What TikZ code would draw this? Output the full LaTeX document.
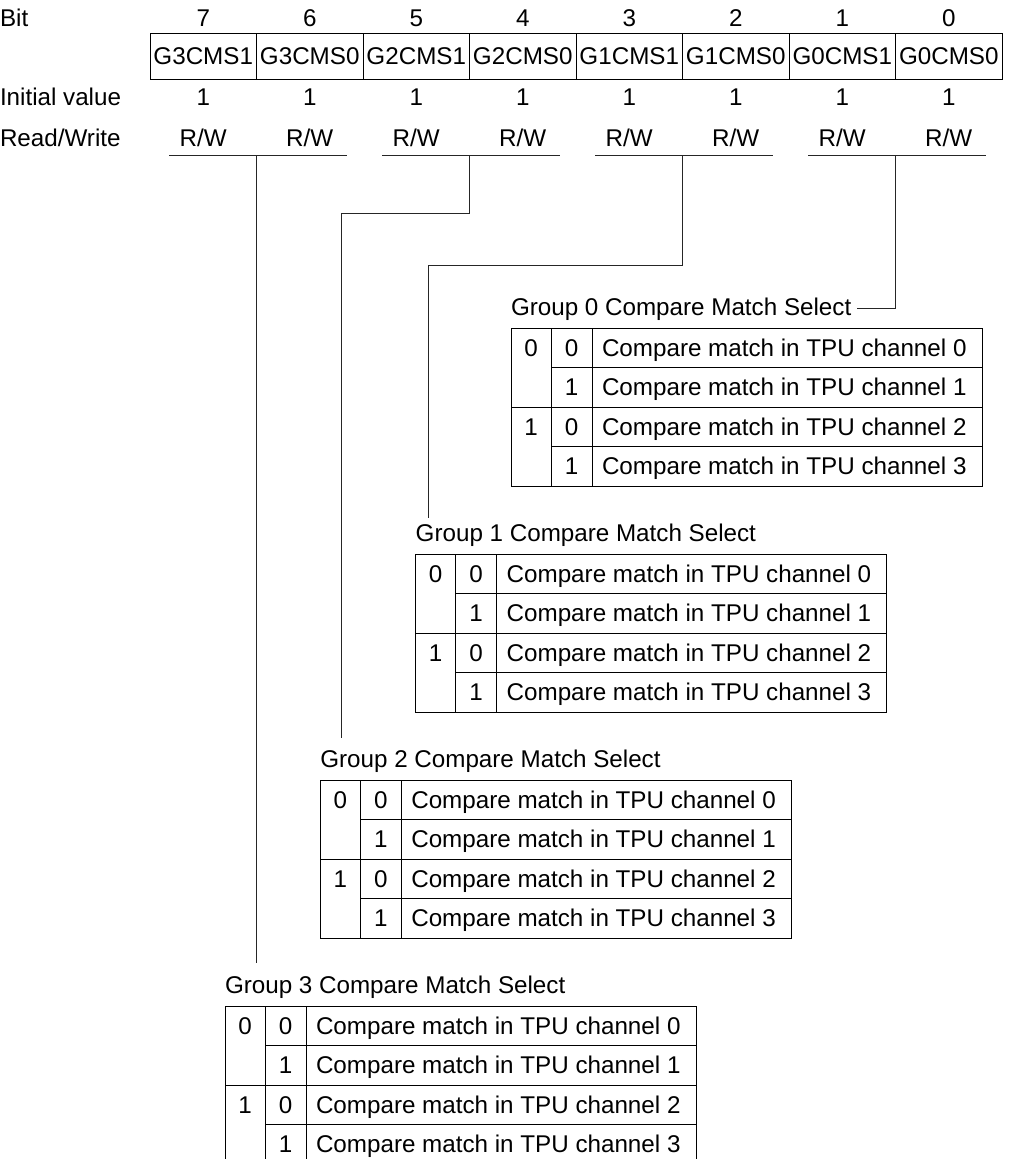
\documentclass[tikz,border=0pt]{standalone}
\usepackage{fontspec}
\setmainfont{Liberation Sans}
\newcommand{\gtable}[4]{% #1 prefix, #2 left, #3 top, #4 group number
  \node[lbl, anchor=base west] (#1title) at (#2,#3-13) {Group #4 Compare Match Select};
  \draw[tbl] (#2,#3) rectangle (#2+471,#3+158);
  \draw[tbl] (#2+40,#3) -- (#2+40,#3+158);
  \draw[tbl] (#2+81,#3) -- (#2+81,#3+158);
  \draw[tbl] (#2,#3+79) -- (#2+471,#3+79);
  \draw[tbl] (#2+40,#3+39.5) -- (#2+471,#3+39.5);
  \draw[tbl] (#2+40,#3+118.5) -- (#2+471,#3+118.5);
  \node[lbl, anchor=base] (#1a0) at (#2+20,#3+28.25) {0};
  \node[lbl, anchor=base] (#1a1) at (#2+20,#3+107.25) {1};
  \foreach \r/\v in {0/0,1/1,2/0,3/1}{
    \node[lbl, anchor=base] (#1b\r) at (#2+60.5,#3+28.25+39.5*\r) {\v};
    \node[lbl, anchor=base west] (#1c\r) at (#2+91,#3+28.25+39.5*\r) {Compare match in TPU channel \r};
  }
}
\begin{document}
\begin{tikzpicture}[x=1pt,y=-1pt,
  lbl/.style={font=\fontsize{24.2}{28}\selectfont, inner sep=0pt, outer sep=0pt},
  cell/.style={lbl, draw, line width=0.9pt, minimum width=106.5pt, minimum height=46pt},
  tbl/.style={line width=0.9pt},
  ln/.style={line width=0.8pt, black!85}]
\useasboundingbox (0,0) rectangle (1009,1159);

% row labels
\node[lbl, anchor=base west] (lbit) at (0,27) {Bit};
\node[lbl, anchor=base west] (linit) at (0,105.5) {Initial value};
\node[lbl, anchor=base west] (lrw) at (0,146.5) {Read/Write};

% register
\foreach \i/\b/\name in {0/7/G3CMS1,1/6/G3CMS0,2/5/G2CMS1,3/4/G2CMS0,4/3/G1CMS1,5/2/G1CMS0,6/1/G0CMS1,7/0/G0CMS0}{
  \pgfmathsetmacro\cx{203.25+106.5*\i}
  \node[lbl, anchor=base] (b\b) at (\cx,27) {\b};
  \node[cell] (c\b) at (\cx,56) {\name};
  \node[lbl, anchor=base] (iv\b) at (\cx,105.5) {1};
  \node[lbl, anchor=base] (rw\b) at (\cx,146.5) {R/W};
}

% underlines of bit pairs
\foreach \k in {0,1,2,3}{
  \pgfmathsetmacro\pl{150+213*\k}
  \draw[ln] (\pl+19,155) -- (\pl+197,155);
  \coordinate (u\k) at (\pl+106.5,155);
}

% group tables
\gtable{g0}{511}{328}{0}
\gtable{g1}{415.7}{554}{1}
\gtable{g2}{320.3}{780}{2}
\gtable{g3}{225}{1006}{3}

% connectors
\coordinate (k1) at (428,518);
\coordinate (k2) at (341,738);
\coordinate (k3) at (256.5,963);
\draw[ln] (u3) |- ([xshift=6pt]g0title.east);
\draw[ln] (u2) -- ++(0,110) -| (k1);
\draw[ln] (u1) -- ++(0,58) -| (k2);
\draw[ln] (u0) -- (k3);
\end{tikzpicture}
\end{document}
